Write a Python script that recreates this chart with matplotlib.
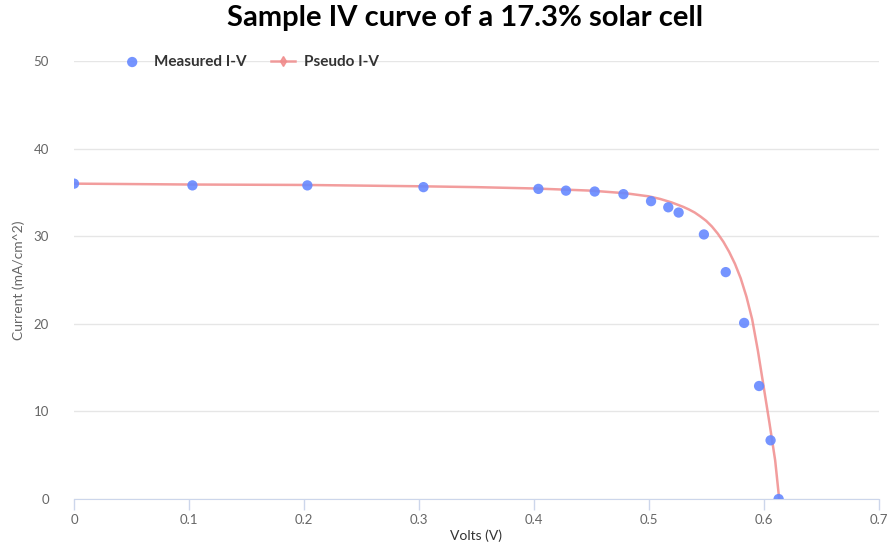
import matplotlib.pyplot as plt

# measured points
volts_meas = [0.0, 0.103, 0.203, 0.304, 0.404, 0.428, 0.453, 0.478, 0.502,
              0.517, 0.526, 0.548, 0.567, 0.583, 0.596, 0.606, 0.613]
curr_meas = [36.0, 35.8, 35.8, 35.6, 35.4, 35.2, 35.1, 34.8, 34.0,
             33.3, 32.7, 30.2, 25.9, 20.1, 12.9, 6.7, 0.0]

# pseudo I-V curve
volts_fit = [0.0, 0.1, 0.2, 0.3, 0.35, 0.4, 0.45, 0.48, 0.50, 0.505, 0.51, 0.515,
             0.52, 0.525, 0.53, 0.535, 0.54, 0.545, 0.55, 0.555, 0.56, 0.565,
             0.57, 0.575, 0.58, 0.585, 0.59, 0.595, 0.60, 0.605, 0.61, 0.6135]
curr_fit = [36.0, 35.9, 35.85, 35.7, 35.6, 35.45, 35.2, 34.9, 34.55, 34.4, 34.25, 34.05,
            33.85, 33.6, 33.35, 33.05, 32.7, 32.25, 31.75, 31.1, 30.3, 29.35,
            28.2, 26.85, 25.2, 23.1, 20.5, 16.9, 12.8, 8.7, 4.4, 0.0]

plt.rcParams['font.family'] = ['Lato', 'DejaVu Sans']

fig = plt.figure(figsize=(8.92, 5.48), dpi=100)
ax = fig.add_axes([0.083, 0.0894, 0.902, 0.7993])

ax.plot(volts_fit, curr_fit, color='#f08c8c', lw=1.8, alpha=0.85, zorder=2,
        label='Pseudo I-V', marker='d', markevery=[], markersize=5)
ax.scatter(volts_meas, curr_meas, s=55, color='#6688ff', alpha=0.9, zorder=3,
           edgecolors='none', label='Measured I-V')

ax.set_xlim(0, 0.7)
ax.set_ylim(0, 50)
ax.set_xticks([0, 0.1, 0.2, 0.3, 0.4, 0.5, 0.6, 0.7])
ax.set_xticklabels(['0', '0.1', '0.2', '0.3', '0.4', '0.5', '0.6', '0.7'])
ax.set_yticks([0, 10, 20, 30, 40, 50])

ax.grid(axis='y', color='#e6e6e6', lw=1)
ax.set_axisbelow(True)
for s in ['top', 'right', 'left']:
    ax.spines[s].set_visible(False)
ax.spines['bottom'].set_color('#ccd6eb')
ax.tick_params(axis='x', colors='#ccd6eb', length=8, width=1, labelcolor='#666666',
               labelsize=9.5, pad=3)
ax.tick_params(axis='y', length=0, labelcolor='#666666', labelsize=9.5, pad=18)

ax.set_xlabel('Volts (V)', fontsize=10, color='#333333', labelpad=2)
ax.set_ylabel('Current (mA/cm^2)', fontsize=10, color='#666666', labelpad=6)

fig.suptitle('Sample IV curve of a 17.3% solar cell', fontsize=21, fontweight='bold',
             x=0.521, y=0.99)

handles, labels = ax.get_legend_handles_labels()
leg = ax.legend(handles[::-1], labels[::-1], loc='upper left', bbox_to_anchor=(0.04, 1.045),
                ncol=2, frameon=False, fontsize=11, handlelength=1.6, columnspacing=1.6,
                handletextpad=0.6)
for t in leg.get_texts():
    t.set_fontweight('bold')
    t.set_color('#333333')

fig.savefig('out.png', dpi=100)
